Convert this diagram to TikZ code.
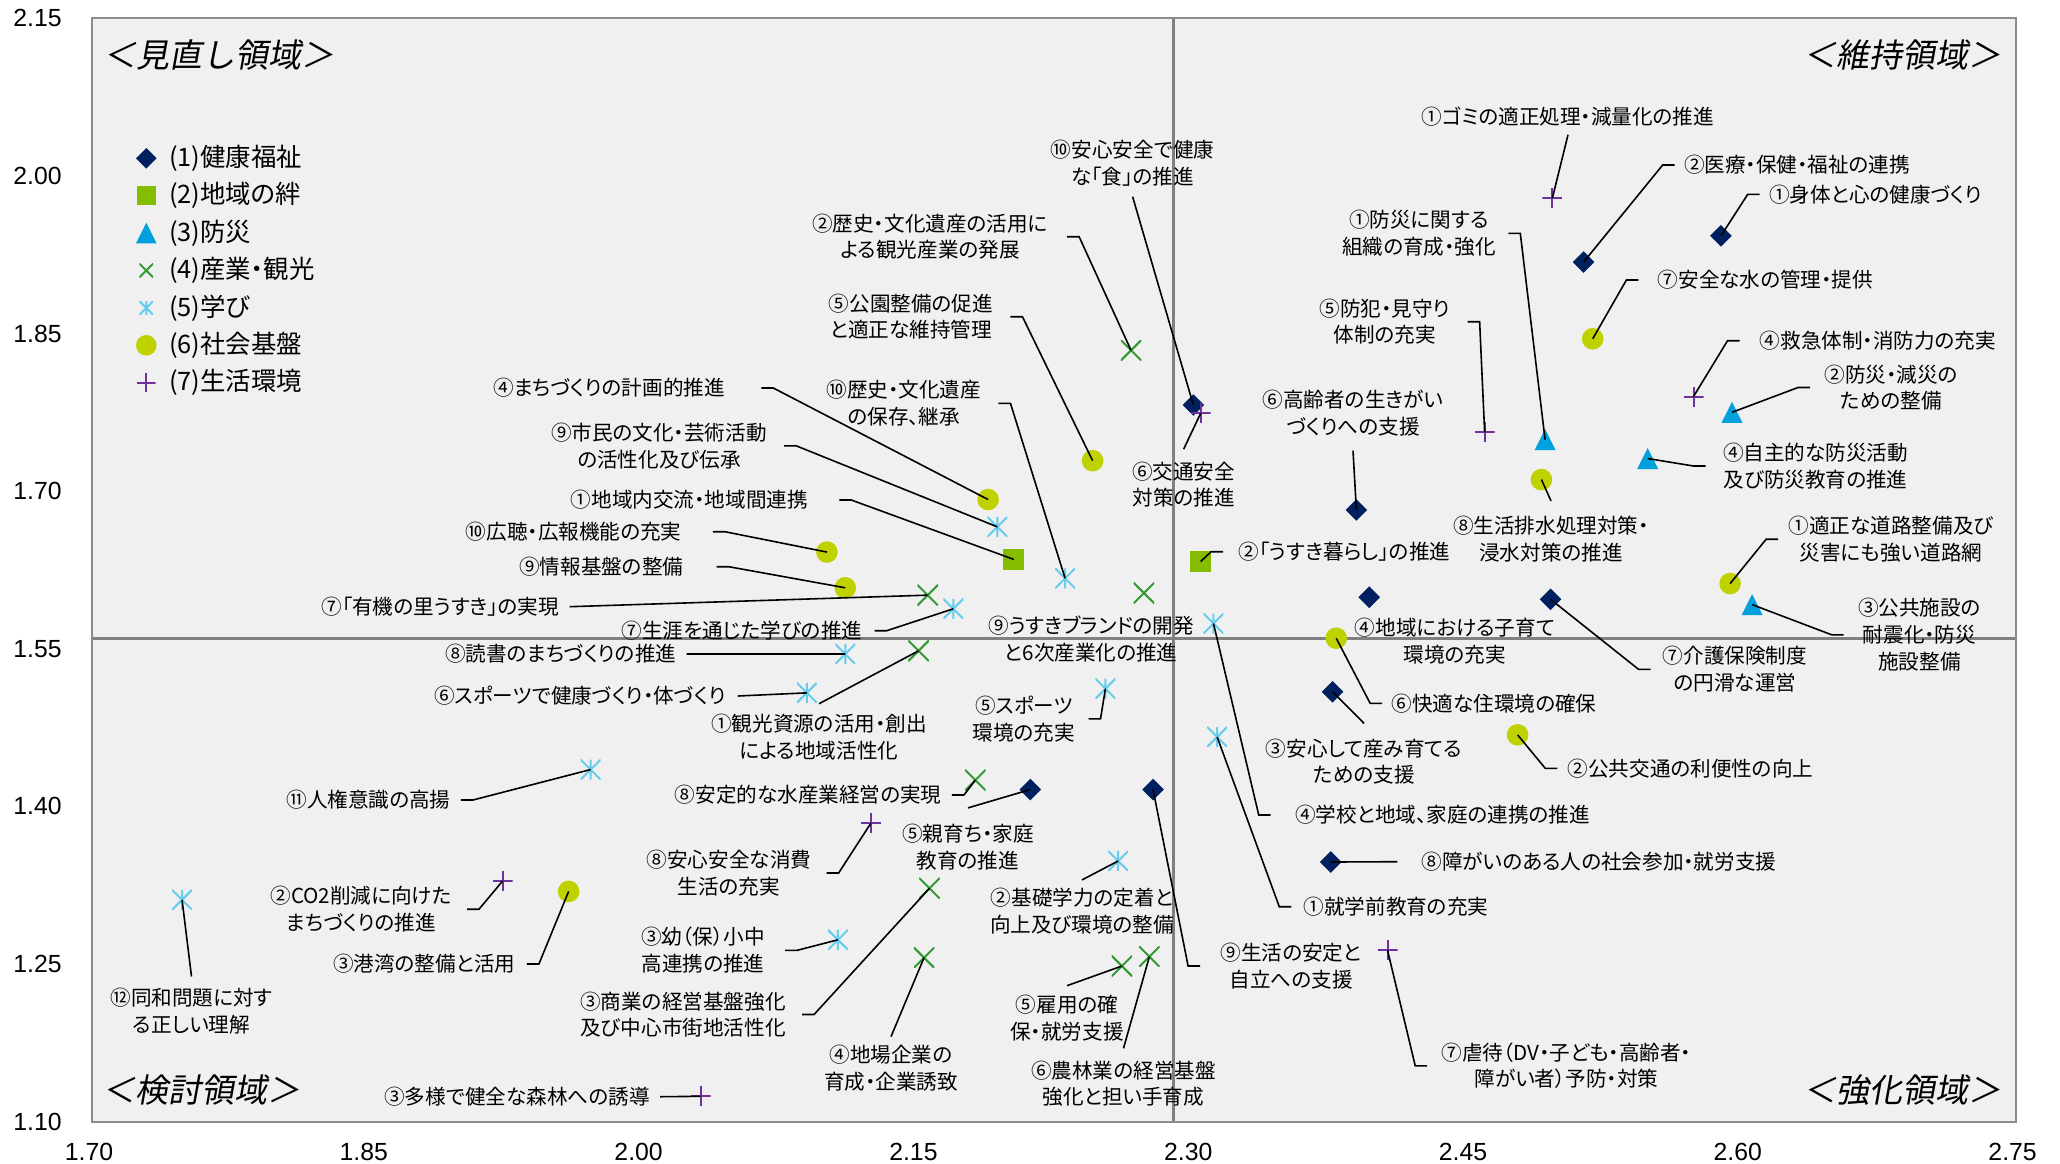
\documentclass[tikz,border=0pt]{standalone}
\usepackage{fontspec}
\setmainfont[RawFeature=+palt]{Noto Sans CJK JP}
\newfontfamily\numfont{Liberation Sans}
\newfontfamily\areafont[FakeSlant=0.18]{Noto Sans CJK JP}
\usetikzlibrary{calc,positioning}

\definecolor{colHealth}{HTML}{002060}
\definecolor{colBond}{HTML}{84BD00}
\definecolor{colSafe}{HTML}{00A0DC}
\definecolor{colInd}{HTML}{339933}
\definecolor{colLearn}{HTML}{66CCEE}
\definecolor{colBase}{HTML}{BFD200}
\definecolor{colLife}{HTML}{7030A0}
\definecolor{plotbg}{HTML}{F0F0F0}
\definecolor{framegray}{HTML}{8C8C8C}

\tikzset{
  lbl/.style={inner sep=0pt, align=center, font=\fontsize{10.3}{13.35}\selectfont},
  legtext/.style={inner sep=0pt, font=\fontsize{12.7}{15}\selectfont},
  axnum/.style={inner sep=0pt, font=\numfont\fontsize{12.4}{14}\selectfont},
  area/.style={inner sep=0pt, font=\areafont\fontsize{16.5}{20}\selectfont},
  lead/.style={line width=0.8pt},
  frame/.style={framegray, line width=1pt},
  midline/.style={gray, line width=1.5pt},
  mkbox/.style={rectangle, inner sep=0pt, minimum size=#1},
  % one style per field
  health/.style={mkbox=#1, path picture={\fill[colHealth] (path picture bounding box.north) -- (path picture bounding box.east) -- (path picture bounding box.south) -- (path picture bounding box.west) -- cycle;}},
  health/.default=10.8pt,
  bond/.style={mkbox=#1, fill=colBond},
  bond/.default=10.5pt,
  safety/.style={mkbox=#1, path picture={\fill[colSafe] (path picture bounding box.south west) -- (path picture bounding box.south east) -- (path picture bounding box.north) -- cycle;}},
  safety/.default=10.5pt,
  industry/.style={mkbox=#1, path picture={\draw[colInd, line width=1pt] (path picture bounding box.north west) -- (path picture bounding box.south east) (path picture bounding box.south west) -- (path picture bounding box.north east);}},
  industry/.default=10.3pt,
  learning/.style={mkbox=#1, path picture={\draw[colLearn, line width=1pt] (path picture bounding box.north west) -- (path picture bounding box.south east) (path picture bounding box.south west) -- (path picture bounding box.north east) (path picture bounding box.north) -- (path picture bounding box.south);}},
  learning/.default=10pt,
  infra/.style={circle, inner sep=0pt, minimum size=#1, fill=colBase},
  infra/.default=10.8pt,
  living/.style={mkbox=#1, path picture={\draw[colLife, line width=1pt] (path picture bounding box.north) -- (path picture bounding box.south) (path picture bounding box.west) -- (path picture bounding box.east);}},
  living/.default=10pt,
  plotarea/.style={shift={(-3022.1,2277.3)}, x=916pt, y=525.35pt}
}

\begin{document}
\begin{tikzpicture}[x=0.5pt, y=-0.5pt]
\fill[white] (0,0) rectangle (2060,1163);
\useasboundingbox (0,0) rectangle (2060,1163);

% plot area, data coordinates
\begin{scope}[plotarea]
\fill[plotbg] (1.70,1.10) rectangle (2.75,2.15);
\draw[midline] (2.29,1.10) -- (2.29,2.15);
\draw[midline] (1.70,1.56) -- (2.75,1.56);
\draw[frame] (1.70,1.10) rectangle (2.75,2.15);

\foreach \n/\x/\y in {h1/2.589/1.943, h2/2.514/1.918, h3/2.377/1.509, h4/2.397/1.599, h5/2.212/1.416,
  h6/2.390/1.682, h7/2.496/1.597, h8/2.376/1.347, h9/2.279/1.416, h10/2.301/1.782}
  \node[health] (\n) at (\x,\y) {};
\foreach \n/\x/\y in {k1/2.203/1.635, k2/2.305/1.633}
  \node[bond] (\n) at (\x,\y) {};
\foreach \n/\x/\y in {b1/2.493/1.749, b2/2.595/1.775, b3/2.606/1.592, b4/2.549/1.731}
  \node[safety] (\n) at (\x,\y) {};
\foreach \n/\x/\y in {s1/2.151/1.548, s2/2.267/1.834, s3/2.157/1.322, s4/2.154/1.256, s5/2.262/1.248,
  s6/2.277/1.257, s7/2.156/1.601, s8/2.182/1.425, s9/2.274/1.603}
  \node[industry] (\n) at (\x,\y) {};
\foreach \n/\x/\y in {m1/2.314/1.466, m2/2.260/1.348, m3/2.107/1.273, m4/2.312/1.574, m5/2.253/1.512,
  m6/2.090/1.508, m7/2.170/1.588, m8/2.111/1.545, m9/2.194/1.666, m10/2.231/1.617,
  m11/1.972/1.435, m12/1.749/1.311}
  \node[learning] (\n) at (\x,\y) {};
\foreach \n/\x/\y in {i1/2.594/1.612, i2/2.478/1.468, i3/1.960/1.319, i4/2.189/1.692, i5/2.246/1.729,
  i6/2.379/1.560, i7/2.519/1.845, i8/2.491/1.711, i9/2.111/1.608, i10/2.101/1.642}
  \node[infra] (\n) at (\x,\y) {};
\foreach \n/\x/\y in {e1/2.497/1.979, e2/1.924/1.329, e3/2.032/1.124, e4/2.574/1.790, e5/2.460/1.756,
  e6/2.305/1.774, e7/2.407/1.263, e8/2.125/1.384}
  \node[living] (\n) at (\x,\y) {};
\end{scope}

% axes
\foreach \val [count=\idx from 0] in {1.70,1.85,2.00,2.15,2.30,2.45,2.60,2.75}
  \node[axnum] (xt\idx) at (89+274.8*\idx,1152) {\val};
\foreach \val [count=\idx from 0] in {2.15,2.00,1.85,1.70,1.55,1.40,1.25,1.10}
  \node[axnum, anchor=east] (yt\idx) at (62,18.3+157.6*\idx) {\val};

% quadrants
\node[area, anchor=west] (qa) at (103,55) {＜見直し領域＞};
\node[area, anchor=east] (qb) at (2002,55) {＜維持領域＞};
\node[area, anchor=west] (qc) at (101.6,1090) {＜検討領域＞};
\node[area, anchor=east] (qd) at (2002,1090) {＜強化領域＞};

% legend
\foreach \s/\z/\t [count=\idx from 0] in {health/10.3pt/{(1)健康福祉}, bond/9.3pt/{(2)地域の絆},
  safety/10.3pt/{(3)防災}, industry/6.9pt/{(4)産業・観光}, learning/6.9pt/{(5)学び},
  infra/10.3pt/{(6)社会基盤}, living/9.3pt/{(7)生活環境}}{
  \node[\s=\z] (key\idx) at (146.3,158.3+37.4*\idx) {};
  \node[legtext, right=11.2pt of key\idx.center] (keyt\idx) {\t};
}

% labels
\node[lbl] (h1t) at (1875.5,194.3) {①身体と心の健康づくり};
\node[lbl] (h2t) at (1797,165) {②医療・保健・福祉の連携};
\node[lbl] (h3t) at (1364,761.7) {③安心して産み育てる\\ための支援};
\node[lbl] (h4t) at (1455,640.8) {④地域における子育て\\環境の充実};
\node[lbl] (h5t) at (968,847.2) {⑤親育ち・家庭\\教育の推進};
\node[lbl] (h6t) at (1353,413.3) {⑥高齢者の生きがい\\づくりへの支援};
\node[lbl] (h7t) at (1735,669.3) {⑦介護保険制度\\の円滑な運営};
\node[lbl] (h8t) at (1599,861.7) {⑧障がいのある人の社会参加・就労支援};
\node[lbl] (h9t) at (1291,966) {⑨生活の安定と\\自立への支援};
\node[lbl] (h10t) at (1132.6,163.3) {⑩安心安全で健康\\な「食」の推進};

\node[lbl] (k1t) at (689.4,500) {①地域内交流・地域間連携};
\node[lbl] (k2t) at (1344.4,551.7) {②「うすき暮らし」の推進};

\node[lbl] (b1t) at (1419,233.3) {①防災に関する\\組織の育成・強化};
\node[lbl] (b2t) at (1891,387.5) {②防災・減災の\\ための整備};
\node[lbl] (b3t) at (1919.5,634.8) {③公共施設の\\耐震化・防災\\施設整備};
\node[lbl] (b4t) at (1815.5,466) {④自主的な防災活動\\及び防災教育の推進};

\node[lbl] (s1t) at (819,737) {①観光資源の活用・創出\\による地域活性化};
\node[lbl] (s2t) at (930,236.7) {②歴史・文化遺産の活用に\\よる観光産業の発展};
\node[lbl] (s3t) at (683,1014.5) {③商業の経営基盤強化\\及び中心市街地活性化};
\node[lbl] (s4t) at (891,1068) {④地場企業の\\育成・企業誘致};
\node[lbl] (s5t) at (1067,1018) {⑤雇用の確\\保・就労支援};
\node[lbl] (s6t) at (1123.5,1083.7) {⑥農林業の経営基盤\\強化と担い手育成};
\node[lbl] (s7t) at (440.3,606.7) {⑦「有機の里うすき」の実現};
\node[lbl] (s8t) at (808.2,795) {⑧安定的な水産業経営の実現};
\node[lbl] (s9t) at (1091,639) {⑨うすきブランドの開発\\と6次産業化の推進};

\node[lbl] (m1t) at (1396,906.7) {①就学前教育の充実};
\node[lbl] (m2t) at (1082,911.2) {②基礎学力の定着と\\向上及び環境の整備};
\node[lbl] (m3t) at (703,950.3) {③幼（保）小中\\高連携の推進};
\node[lbl] (m4t) at (1442.5,815) {④学校と地域、家庭の連携の推進};
\node[lbl] (m5t) at (1024,718.8) {⑤スポーツ\\環境の充実};
\node[lbl] (m6t) at (579.8,696) {⑥スポーツで健康づくり・体づくり};
\node[lbl] (m7t) at (742,630.7) {⑦生涯を通じた学びの推進};
\node[lbl] (m8t) at (560.8,654) {⑧読書のまちづくりの推進};
\node[lbl] (m9t) at (659,445.8) {⑨市民の文化・芸術活動\\の活性化及び伝承};
\node[lbl] (m10t) at (903.8,403.3) {⑩歴史・文化遺産\\の保存、継承};
\node[lbl] (m11t) at (368.5,800) {⑪人権意識の高揚};
\node[lbl] (m12t) at (191.5,1010.8) {⑫同和問題に対す\\る正しい理解};

\node[lbl] (i1t) at (1891,539.2) {①適正な道路整備及び\\災害にも強い道路網};
\node[lbl] (i2t) at (1690.5,768.3) {②公共交通の利便性の向上};
\node[lbl] (i3t) at (424.4,964) {③港湾の整備と活用};
\node[lbl] (i4t) at (609,388) {④まちづくりの計画的推進};
\node[lbl] (i5t) at (911,316.7) {⑤公園整備の促進\\と適正な維持管理};
\node[lbl] (i6t) at (1494,703.3) {⑥快適な住環境の確保};
\node[lbl] (i7t) at (1765.4,280) {⑦安全な水の管理・提供};
\node[lbl] (i8t) at (1551,539.2) {⑧生活排水処理対策・\\浸水対策の推進};
\node[lbl] (i9t) at (601.3,566.7) {⑨情報基盤の整備};
\node[lbl] (i10t) at (573.7,531.7) {⑩広聴・広報機能の充実};

\node[lbl] (e1t) at (1568,116.7) {①ゴミの適正処理・減量化の推進};
\node[lbl] (e2t) at (361,909.2) {②CO2削減に向けた\\まちづくりの推進};
\node[lbl] (e3t) at (517,1096.7) {③多様で健全な森林への誘導};
\node[lbl] (e4t) at (1878,340.7) {④救急体制・消防力の充実};
\node[lbl] (e5t) at (1385,321.7) {⑤防犯・見守り\\体制の充実};
\node[lbl] (e6t) at (1183.6,484.5) {⑥交通安全\\対策の推進};
\node[lbl] (e7t) at (1566.5,1065.8) {⑦虐待（DV・子ども・高齢者・\\障がい者）予防・対策};
\node[lbl] (e8t) at (729,873) {⑧安心安全な消費\\生活の充実};

% leader lines
\foreach \t/\m/\g in {s2t/s2/19, i5t/i5/17, i4t/i4/36, m10t/m10/17, m9t/m9/17, k1t/k1/31,
  i10t/i10/31, i9t/i9/33, m7t/m7/12, m11t/m11/10, e2t/e2/15, i3t/i3/11, s8t/s8/10,
  e8t/e8/15, m3t/m3/20, s3t/s3/16, b1t/b1/12, e5t/e5/17, m5t/m5/13}
  \draw[lead] ($(\t.east)+(\g,0)$) -- ++(12,0) -- (\m.center);
\foreach \t/\m/\g in {s7t/s7/10, m8t/m8/10, m6t/m6/12, e3t/e3/10}
  \draw[lead] ($(\t.east)+(\g,0)$) -- (\m.center);
\foreach \t/\m/\g in {h9t/h9/20, m1t/m1/12, m4t/m4/24, e7t/e7/14, i6t/i6/9, i2t/i2/10,
  k2t/k2/15, h2t/h2/9, h1t/h1/9, i7t/i7/19, e4t/e4/20, b2t/b2/14, b4t/b4/17,
  i1t/i1/10, b3t/b3/14, h7t/h7/12}
  \draw[lead] ($(\t.west)-(\g,0)$) -- ++(-12,0) -- (\m.center);
\draw[lead] ($(h8t.west)-(24,0)$) -- (h8.center);
\foreach \t/\m/\g in {s1t/s1/10, m12t/m12/11, h5t/h5/16, s4t/s4/8, m2t/m2/8, s5t/s5/9,
  s6t/s6/12, h3t/h3/15, e6t/e6/12, i8t/i8/15}
  \draw[lead] ($(\t.north)-(0,\g)$) -- (\m.center);
\foreach \t/\m/\g in {h6t/h6/14, h10t/h10/10, e1t/e1/8}
  \draw[lead] ($(\t.south)+(0,\g)$) -- (\m.center);
\end{tikzpicture}
\end{document}
